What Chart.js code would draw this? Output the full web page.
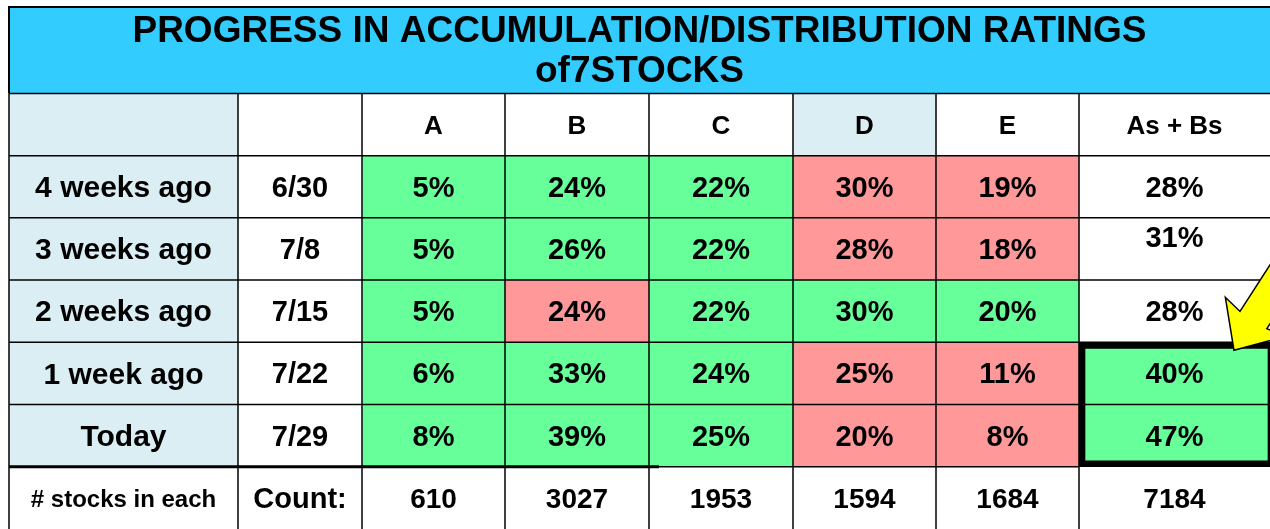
<!DOCTYPE html>
<html>
<head>
<meta charset="utf-8">
<script src="https://cdn.jsdelivr.net/npm/chart.js@4"></script>
<style>
  body { margin: 0; background: #fff; }
  #wrap { width: 1270px; height: 529px; position: relative; }
</style>
</head>
<body>
<div id="wrap"><canvas id="chart"></canvas></div>
<script>
// table data
const periods = ['4 weeks ago', '3 weeks ago', '2 weeks ago', '1 week ago', 'Today'];
const dates = ['6/30', '7/8', '7/15', '7/22', '7/29'];
const grades = ['A', 'B', 'C', 'D', 'E'];
const pctA = [5, 5, 5, 6, 8];
const pctB = [24, 26, 24, 33, 39];
const pctC = [22, 22, 22, 24, 25];
const pctD = [30, 28, 30, 25, 20];
const pctE = [19, 18, 20, 11, 8];
const pctAB = [28, 31, 28, 40, 47];
const counts = [610, 3027, 1953, 1594, 1684];
const totalCount = 7184;
// 1 = better (green), -1 = worse (red), 0 = plain
const signA = [1, 1, 1, 1, 1];
const signB = [1, 1, -1, 1, 1];
const signC = [1, 1, 1, 1, 1];
const signD = [-1, -1, 1, -1, -1];
const signE = [-1, -1, 1, -1, -1];
const signAB = [0, 0, 0, 1, 1];

const pcts = [pctA, pctB, pctC, pctD, pctE];
const signs = [signA, signB, signC, signD, signE];

// layout of columns (x units) and rows
const colEdges = [0, 229, 353, 496, 640, 784, 927, 1070, 1261];
const rowKeys = ['header'].concat(periods, ['count']);

const BLUE = '#DAEEF3', GREEN = '#66FF99', RED = '#FF9999', WHITE = '#FFFFFF';
const signColor = s => s > 0 ? GREEN : (s < 0 ? RED : WHITE);
const FONT = '"Liberation Sans", Arial, sans-serif';

function colColors(c) {
  return rowKeys.map((k, r) => {
    if (r === 0) return (c === 0 || c === 5) ? BLUE : WHITE;
    if (r === 6) return WHITE;
    const i = r - 1;
    if (c === 0) return BLUE;
    if (c === 1) return WHITE;
    if (c === 7) return signColor(signAB[i]);
    return signColor(signs[c - 2][i]);
  });
}

const datasets = [];
for (let c = 0; c < 8; c++) {
  datasets.push({
    data: rowKeys.map(() => [colEdges[c], colEdges[c + 1]]),
    backgroundColor: colColors(c),
    borderWidth: 0,
    grouped: false,
    barPercentage: 1,
    categoryPercentage: 1,
    order: 2
  });
}
// thick frame round the last two As + Bs cells
datasets.push({
  data: rowKeys.map((k, r) => (r === 4 || r === 5) ? [colEdges[7], colEdges[8] + 4] : null),
  backgroundColor: 'rgba(0,0,0,0)',
  borderColor: '#000',
  borderSkipped: false,
  borderWidth: ctx => ctx.dataIndex === 4 ? {top: 6, left: 6, right: 6, bottom: 0} : {top: 0, left: 6, right: 6, bottom: 6},
  grouped: false,
  barPercentage: 1,
  categoryPercentage: 1,
  order: 1
});

function cellText(r, c) {
  if (r === 0) {
    if (c >= 2 && c <= 6) return grades[c - 2];
    if (c === 7) return 'As + Bs';
    return '';
  }
  if (r === 6) {
    if (c === 0) return '# stocks in each';
    if (c === 1) return 'Count:';
    if (c === 7) return String(totalCount);
    return String(counts[c - 2]);
  }
  const i = r - 1;
  if (c === 0) return periods[i];
  if (c === 1) return dates[i];
  if (c === 7) return pctAB[i] + '%';
  return pcts[c - 2][i] + '%';
}

function cellFont(r, c) {
  if (r === 0) return 26;
  if (r === 6) return c === 0 ? 24 : (c === 1 ? 29 : 28);
  return c === 0 ? 30 : 29;
}

const tablePlugin = {
  id: 'tablePlugin',
  beforeDraw(chart) {
    const ctx = chart.ctx, t = chart.titleBlock;
    ctx.save();
    ctx.fillStyle = '#33CCFF';
    ctx.fillRect(t.left, t.top, t.width + 10, t.height);
    ctx.strokeStyle = '#000';
    ctx.lineWidth = 2;
    ctx.beginPath();
    ctx.moveTo(t.left, t.bottom); ctx.lineTo(t.left, t.top); ctx.lineTo(t.right + 10, t.top);
    ctx.stroke();
    ctx.restore();
  },
  afterDatasetsDraw(chart) {
    const ctx = chart.ctx, xs = chart.scales.x, ys = chart.scales.y;
    const rowH = (ys.getPixelForValue(1) - ys.getPixelForValue(0));
    const top = r => ys.getPixelForValue(r) - rowH / 2;
    const xp = v => xs.getPixelForValue(v);
    ctx.save();
    ctx.strokeStyle = '#000';
    // horizontal lines
    for (let r = 0; r <= 6; r++) {
      ctx.lineWidth = r === 6 ? 3 : 1.5;
      ctx.beginPath();
      ctx.moveTo(xp(colEdges[0]), top(r));
      ctx.lineTo(xp(colEdges[r === 6 ? 4 : 8]) + 10, top(r));
      ctx.stroke();
      if (r === 6) {
        ctx.lineWidth = 1.5;
        ctx.beginPath();
        ctx.moveTo(xp(colEdges[4]), top(r));
        ctx.lineTo(xp(colEdges[7]), top(r));
        ctx.stroke();
      }
    }
    // vertical lines
    ctx.lineWidth = 1.5;
    for (let c = 0; c < 8; c++) {
      ctx.beginPath();
      ctx.moveTo(xp(colEdges[c]), top(0));
      ctx.lineTo(xp(colEdges[c]), chart.chartArea.bottom + 2);
      ctx.stroke();
    }
    // texts
    ctx.fillStyle = '#000';
    ctx.textAlign = 'center';
    ctx.textBaseline = 'middle';
    for (let r = 0; r < 7; r++) {
      for (let c = 0; c < 8; c++) {
        const s = cellText(r, c);
        if (!s) continue;
        ctx.font = 'bold ' + cellFont(r, c) + 'px ' + FONT;
        let y = ys.getPixelForValue(r) + 2;
        if (r === 2 && c === 7) y -= 12;
        ctx.fillText(s, (xp(colEdges[c]) + xp(colEdges[c + 1])) / 2, y);
      }
    }
    // yellow arrow pointing at the highlighted cells
    const tipX = xp(colEdges[7]) + 155, tipY = top(4) + 8;
    const ax = 0.54, ay = -0.84, nx = -0.84, ny = -0.54;
    const P = (along, perp) => [tipX + ax * along + nx * perp, tipY + ay * along + ny * perp];
    const pts = [P(0, 0), P(40, 36), P(36, 16), P(140, 16), P(140, -16), P(36, -16), P(40, -36)];
    ctx.beginPath();
    pts.forEach((p, i) => i ? ctx.lineTo(p[0], p[1]) : ctx.moveTo(p[0], p[1]));
    ctx.closePath();
    ctx.fillStyle = '#FFFF00';
    ctx.fill();
    ctx.lineWidth = 1.5;
    ctx.strokeStyle = '#000';
    ctx.stroke();
    ctx.restore();
  }
};

new Chart(document.getElementById('chart').getContext('2d'), {
  type: 'bar',
  data: { labels: rowKeys, datasets: datasets },
  options: {
    indexAxis: 'y',
    responsive: true,
    maintainAspectRatio: false,
    animation: false,
    events: [],
    layout: { padding: { left: 9, top: 7, right: 0, bottom: 0 } },
    scales: {
      x: { type: 'linear', min: 0, max: 1261, display: false },
      y: { display: false }
    },
    plugins: {
      legend: { display: false },
      tooltip: { enabled: false },
      title: {
        display: true,
        text: ['PROGRESS IN ACCUMULATION/DISTRIBUTION RATINGS', 'of7STOCKS'],
        color: '#000',
        font: { family: FONT, size: 37, weight: 'bold', lineHeight: 1.1 },
        padding: { top: 4, bottom: 1 }
      }
    }
  },
  plugins: [tablePlugin]
});
</script>
</body>
</html>
